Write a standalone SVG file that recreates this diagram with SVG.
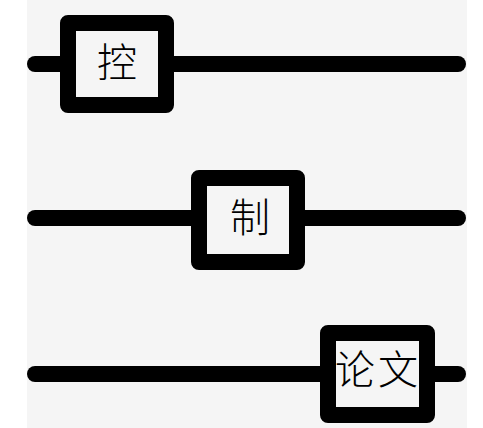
<svg xmlns="http://www.w3.org/2000/svg" width="483" height="428" viewBox="0 0 483 428">
<style>
.line{stroke:#000;stroke-width:16;stroke-linecap:round;fill:none}
.box{fill:#f5f5f5;stroke:#000;stroke-width:16;stroke-linejoin:round}
.lbl{font-family:"Liberation Serif","Noto Sans CJK SC",serif;font-size:40px;font-weight:300;fill:#000;text-anchor:middle;dominant-baseline:central}
</style>
<rect x="0" y="0" width="483" height="428" fill="#fff"/>
<rect x="27" y="0" width="440" height="428" fill="#f5f5f5"/>
<g id="connectors">
<line class="line" x1="35" y1="64" x2="458" y2="64"/>
<line class="line" x1="35" y1="218" x2="458" y2="218"/>
<line class="line" x1="35" y1="374" x2="458" y2="374"/>
</g>
<g id="node-kong">
<rect class="box" x="68" y="23" width="98" height="82"/>
<text class="lbl" x="117" y="63">控</text>
</g>
<g id="node-zhi">
<rect class="box" x="199" y="178" width="98" height="84"/>
<text class="lbl" x="250" y="218">制</text>
</g>
<g id="node-lunwen">
<rect class="box" x="328" y="333" width="99" height="82"/>
<text class="lbl" x="378" y="370" letter-spacing="3">论文</text>
</g>
</svg>
